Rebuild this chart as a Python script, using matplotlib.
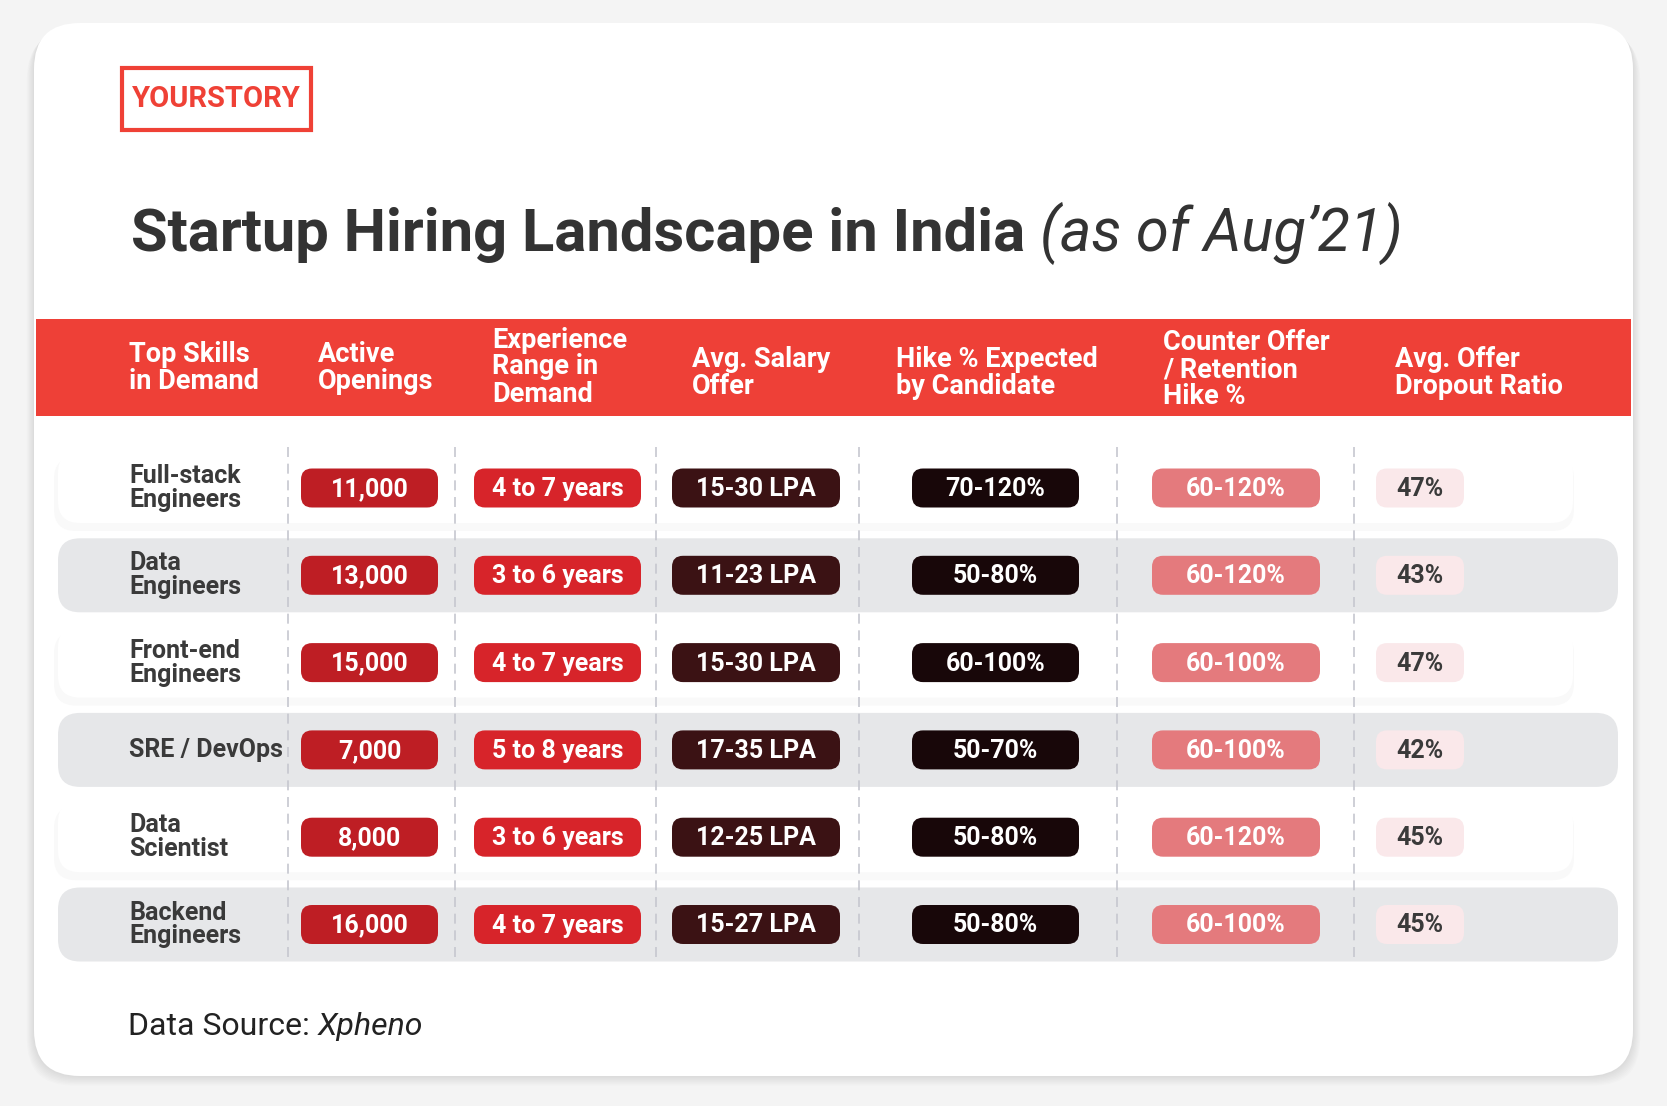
import matplotlib
matplotlib.use("Agg")
import matplotlib.pyplot as plt
from matplotlib.patches import FancyBboxPatch, Rectangle

# table content read from the infographic
skills = ["Full-stack\nEngineers", "Data\nEngineers", "Front-end\nEngineers",
          "SRE / DevOps", "Data\nScientist", "Backend\nEngineers"]
openings = [11000, 13000, 15000, 7000, 8000, 16000]
experience = ["4 to 7 years", "3 to 6 years", "4 to 7 years",
              "5 to 8 years", "3 to 6 years", "4 to 7 years"]
salary = ["15-30 LPA", "11-23 LPA", "15-30 LPA", "17-35 LPA", "12-25 LPA", "15-27 LPA"]
hike_expected = ["70-120%", "50-80%", "60-100%", "50-70%", "50-80%", "50-80%"]
counter_offer = ["60-120%", "60-120%", "60-100%", "60-100%", "60-120%", "60-100%"]
dropout = [47, 43, 47, 42, 45, 45]

headers = ["Top Skills\nin Demand", "Active\nOpenings", "Experience\nRange in\nDemand",
           "Avg. Salary\nOffer", "Hike % Expected\nby Candidate",
           "Counter Offer\n/ Retention\nHike %", "Avg. Offer\nDropout Ratio"]

# layout (pixels, origin top-left)
W, H = 1667, 1106
header_x = [129, 318, 492, 692, 896, 1163, 1395]
header_y = [368, 368, 367, 373, 373, 370, 373]
pill_cx = [369.5, 557.5, 756, 995.5, 1236, 1420]
pill_w = [137, 167, 168, 167, 168, 88]
pill_h = 39
pill_fc = ["#be1e24", "#d7242a", "#3b1214", "#180709", "#e47a7d", "#fae8ea"]
pill_tc = ["white"] * 5 + ["#3a3a3a"]
sep_x = [288, 455, 656, 859, 1117, 1354]
row_y0, row_step = 488, 87.3

fig = plt.figure(figsize=(W / 100, H / 100), dpi=100, facecolor="#f4f4f4")
ax = fig.add_axes([0, 0, 1, 1])
ax.set_xlim(0, W)
ax.set_ylim(H, 0)
ax.axis("off")

# card with soft shadow
for k in range(8):
    pad = 3 + k * 3
    ax.add_patch(FancyBboxPatch((34 - pad * 0.3, 23 + pad * 0.4), 1599 + pad * 0.6, 1053,
                                boxstyle="round,pad=0,rounding_size=46",
                                fc="#000000", ec="none", alpha=0.012, zorder=0))
ax.add_patch(FancyBboxPatch((34, 23), 1599, 1053, boxstyle="round,pad=0,rounding_size=46",
                            fc="white", ec="none", zorder=1))

# logo
ax.add_patch(Rectangle((121.5, 67.5), 189, 62, fill=False, ec="#ef4136", lw=3, zorder=3))
ax.text(216, 99, "YOURSTORY", color="#ef4136", fontsize=21, fontweight="bold",
        fontstretch="condensed", family=["Liberation Sans Narrow", "Roboto"],
        ha="center", va="center", zorder=3)

# title
fig.canvas.draw()
r = fig.canvas.get_renderer()
t = ax.text(131, 251, "Startup Hiring Landscape in India", fontsize=43, fontweight="bold",
            family="Roboto", color="#333333", va="baseline", zorder=3)
bb = t.get_window_extent(renderer=r)
x_end = ax.transData.inverted().transform((bb.x1, bb.y0))[0]
ax.text(x_end + 15, 251, "(as of Aug\u201921)", fontsize=43, style="italic",
        family="Roboto", color="#333333", va="baseline", zorder=3)

# header band
ax.add_patch(Rectangle((36, 319), 1595, 97, fc="#ee4037", ec="none", zorder=2))
for h, x, y in zip(headers, header_x, header_y):
    ax.text(x, y, h, color="white", fontsize=19.5, fontweight="bold", family="Roboto",
            ha="left", va="center", linespacing=1.0, zorder=3)

# row bands
for i in range(len(skills)):
    cy = row_y0 + i * row_step
    if i % 2 == 1:
        ax.add_patch(FancyBboxPatch((58, cy - 37), 1560, 74,
                                    boxstyle="round,pad=0,rounding_size=22",
                                    fc="#e6e7e9", ec="none", zorder=2))
    else:
        ax.add_patch(FancyBboxPatch((54, cy - 31), 1520, 74,
                                    boxstyle="round,pad=0,rounding_size=22",
                                    fc="#f9f9f9", ec="none", zorder=1.5))
        ax.add_patch(FancyBboxPatch((58, cy - 37), 1515, 72,
                                    boxstyle="round,pad=0,rounding_size=22",
                                    fc="white", ec="none", zorder=1.6))

# dashed separators
for x in sep_x:
    ax.plot([x, x], [447, 962], color="#c6c7cf", lw=1.2, ls=(0, (6, 4)), zorder=2.5)

# cells
columns = [[f"{v:,}" for v in openings], experience, salary, hike_expected,
           counter_offer, [f"{v}%" for v in dropout]]
for i, skill in enumerate(skills):
    cy = row_y0 + i * row_step
    ax.text(129, cy, skill, color="#3a3a3a", fontsize=18, fontweight="bold", family="Roboto",
            ha="left", va="center", linespacing=1.0, zorder=3)
    for j, col in enumerate(columns):
        ax.add_patch(FancyBboxPatch((pill_cx[j] - pill_w[j] / 2, cy - pill_h / 2), pill_w[j], pill_h,
                                    boxstyle="round,pad=0,rounding_size=11",
                                    fc=pill_fc[j], ec="none", zorder=3))
        ax.text(pill_cx[j], cy + 1, col[i], color=pill_tc[j], fontsize=18, fontweight="bold",
                family="Roboto", ha="center", va="center", zorder=4)

# footer
f = ax.text(128, 1035, "Data Source: ", fontsize=23, family="Roboto", color="#222222",
            va="baseline", zorder=3)
bb = f.get_window_extent(renderer=r)
x_end = ax.transData.inverted().transform((bb.x1, bb.y0))[0]
ax.text(x_end, 1035, "Xpheno", fontsize=23, style="italic", family="Roboto",
        color="#222222", va="baseline", zorder=3)

fig.savefig("out.png", dpi=100, facecolor=fig.get_facecolor())
